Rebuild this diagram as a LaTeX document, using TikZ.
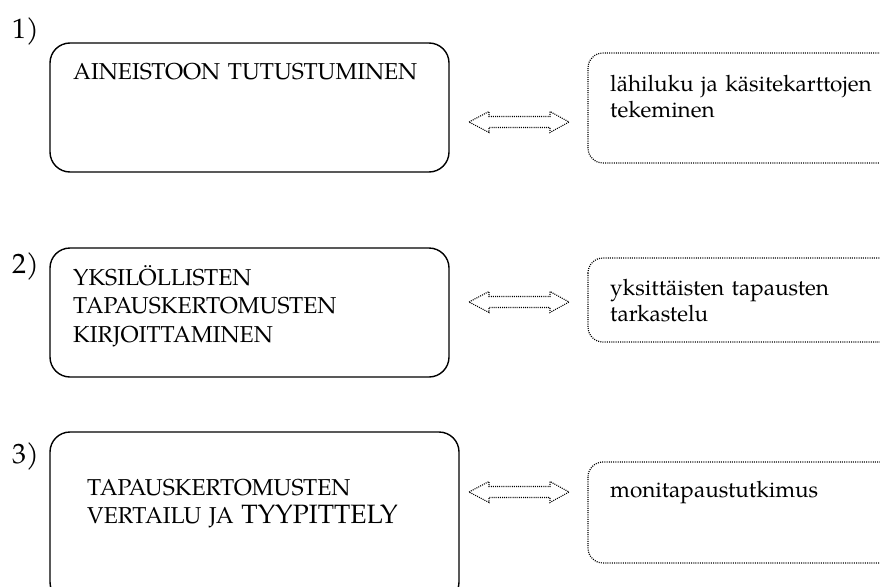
\documentclass[tikz,border=0pt]{standalone}
\usepackage{fontspec}
\setmainfont{TeX Gyre Pagella}

\tikzset{
  phase/.style={draw=black, line width=1.4pt, rounded corners=20pt},
  method/.style={draw=black, line width=1.2pt, dash pattern=on 1pt off 1.2pt, rounded corners=15pt},
  numlabel/.style={anchor=base west, inner sep=0pt, font=\fontsize{28}{32}\selectfont},
  phasetext/.style={anchor=base west, inner sep=0pt, text width=360pt, align=left, font=\fontsize{23}{28.5}\selectfont},
  methodtext/.style={anchor=base west, inner sep=0pt, text width=300pt, align=left, font=\fontsize{22.5}{26.5}\selectfont},
  link/.style={draw=black, line width=1.1pt, dash pattern=on 1pt off 1.1pt, line join=miter}
}
% hollow two-way block arrow around a named centre
\newcommand{\twowaylink}[1]{%
  \draw[link, shift={(#1)}] (-50,0) -- (-30,-10.5) -- (-30,-5.5) -- (31,-5.5) -- (31,-10.5)
    -- (50,0) -- (31,10.5) -- (31,5.5) -- (-30,5.5) -- (-30,10.5) -- cycle;}

\begin{document}
\begin{tikzpicture}[x=1pt, y=-1pt]
\useasboundingbox (0,0) rectangle (880,586);
\clip (0,0) rectangle (880,586);

% phase boxes
\draw[phase] (50,43) rectangle (449,172);
\draw[phase] (50,248) rectangle (449,377);
\draw[phase] (50,432) rectangle (459,602);

% method boxes (open to the right)
\draw[method] (588,53) rectangle (910,163);
\draw[method] (588,258) rectangle (910,342);
\draw[method] (588,462) rectangle (910,563);

% phase numbers
\node[numlabel] (n1) at (12,38) {1)};
\node[numlabel] (n2) at (12,273) {2)};
\node[numlabel] (n3) at (12,463) {3)};

% phase texts
\node[phasetext] (p1) at (73,79) {AINEISTOON TUTUSTUMINEN};
\node[phasetext] (p2) at (73,285) {YKSILÖLLISTEN\\TAPAUSKERTOMUSTEN\\KIRJOITTAMINEN};
\node[phasetext] (p3) at (87,495) {TAPAUSKERTOMUSTEN\\VERTAILU JA {\fontsize{26.5}{28.5}\selectfont TYYPITTELY}};

% method texts
\node[methodtext] (m1) at (610,91) {lähiluku ja käsitekarttojen\\tekeminen};
\node[methodtext] (m2) at (610,295) {yksittäisten tapausten\\tarkastelu};
\node[methodtext] (m3) at (610,497) {monitapaustutkimus};

% two-way links between phase and method
\coordinate (l1) at (519,122);
\coordinate (l2) at (519,302);
\coordinate (l3) at (519,492);
\twowaylink{l1}
\twowaylink{l2}
\twowaylink{l3}
\end{tikzpicture}
\end{document}
